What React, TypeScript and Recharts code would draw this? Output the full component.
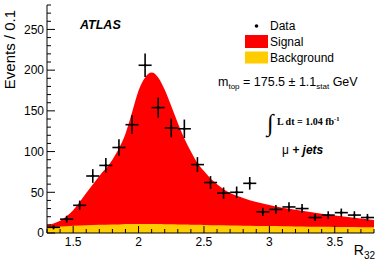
import { ComposedChart, Area, Scatter, ErrorBar, XAxis, YAxis } from "recharts";

// measured data: events per 0.1 bin of R32
const binCenters = [1.35, 1.45, 1.55, 1.65, 1.75, 1.85, 1.95, 2.05, 2.15, 2.25, 2.35, 2.45, 2.55, 2.65, 2.75, 2.85, 2.95, 3.05, 3.15, 3.25, 3.35, 3.45, 3.55, 3.65, 3.75];
const counts = [7, 17, 34, 70, 83, 105, 133, 206, 154, 129, 128, 84, 62, 49, 50, 61, 26, 29, 32, 30, 19, 22, 25, 22, 19];
const countErrors = [2.6, 4.2, 5.8, 8.4, 9.1, 10.2, 11.5, 14.4, 12.4, 11.4, 11.3, 9.2, 7.9, 7.0, 7.1, 7.8, 5.1, 5.4, 5.7, 5.5, 4.4, 4.7, 5.0, 4.7, 4.4];
const binHalfWidth = 0.05;

// fitted template (signal + background) and background alone
const curveX = [1.3, 1.4, 1.5, 1.6, 1.7, 1.8, 1.85, 1.9, 1.95, 2.0, 2.05, 2.1, 2.15, 2.2, 2.25, 2.3, 2.35, 2.4, 2.45, 2.5, 2.55, 2.6, 2.7, 2.8, 2.9, 3.0, 3.1, 3.2, 3.3, 3.4, 3.5, 3.6, 3.7, 3.8];
const signalTotal = [9.5, 15, 28, 49, 70, 90, 104, 122, 148, 175, 191, 197, 191, 176, 156, 135, 116, 100, 86, 76, 67, 60, 49, 43, 38, 34.5, 31, 28.5, 26, 23.5, 21.5, 19.5, 17.8, 16];
const background = [7.5, 8, 9, 9.5, 10, 10.5, 10.5, 11, 11, 11, 11, 11, 11, 10.8, 10.7, 10.5, 10.3, 10.1, 10, 9.8, 9.6, 9.5, 9.2, 9, 8.7, 8.5, 8.2, 8, 7.8, 7.6, 7.4, 7.3, 7.1, 7];

const xMajorTicks = [1.5, 2, 2.5, 3, 3.5];
const yMajorTicks = [0, 50, 100, 150, 200, 250];
const xTicks = Array.from({ length: 26 }, (_, i) => Math.round((1.3 + i * 0.1) * 10) / 10);
const yTicks = Array.from({ length: 29 }, (_, i) => i * 10);

const curveData = curveX.map((x, i) => ({ x, total: signalTotal[i], bg: background[i] }));
const points = binCenters.map((x, i) => ({ x, y: counts[i], ey: countErrors[i], ex: binHalfWidth }));

const FONT = "'Liberation Sans', Arial, Helvetica, sans-serif";
const SERIF = "'Liberation Serif', 'Times New Roman', serif";
const RED = "#ff0000";
const YELLOW = "#ffcc00";

const BottomTick = ({ x, y, payload }: any) => {
  const major = xMajorTicks.includes(payload.value);
  return (
    <g>
      <line x1={x} x2={x} y1={y} y2={y - (major ? 7 : 4)} stroke="#000" />
      {major && (
        <text x={x} y={y + 13} textAnchor="middle" fontSize={12} fontFamily={FONT} fill="#000">
          {payload.value}
        </text>
      )}
    </g>
  );
};

const TopTick = ({ x, y, payload }: any) => {
  const major = xMajorTicks.includes(payload.value);
  return <line x1={x} x2={x} y1={y} y2={y + (major ? 7 : 4)} stroke="#000" />;
};

const LeftTick = ({ x, y, payload }: any) => {
  const major = yMajorTicks.includes(payload.value);
  return (
    <g>
      <line x1={x} x2={x + (major ? 8 : 4)} y1={y} y2={y} stroke="#000" />
      {major && (
        <text x={x - 3} y={y + 4.3} textAnchor="end" fontSize={12} fontFamily={FONT} fill="#000">
          {payload.value}
        </text>
      )}
    </g>
  );
};

const RightTick = ({ x, y, payload }: any) => {
  const major = yMajorTicks.includes(payload.value);
  return <line x1={x} x2={x - (major ? 8 : 4)} y1={y} y2={y} stroke="#000" />;
};

const DataDot = ({ cx, cy }: any) => <circle cx={cx} cy={cy} r={1.3} fill="#000" />;

export default function App() {
  return (
    <div style={{ position: "absolute", left: 0, top: 0, background: "#fff" }}>
      <ComposedChart width={390} height={265} data={curveData} margin={{ top: 5, right: 16, bottom: 0, left: 0 }}>
        <Area type="monotone" dataKey="total" stroke="none" fill={RED} fillOpacity={1} baseValue={0} isAnimationActive={false} />
        <Area type="monotone" dataKey="bg" stroke="none" fill={YELLOW} fillOpacity={1} baseValue={0} isAnimationActive={false} />
        <Scatter data={points} dataKey="y" shape={<DataDot />} isAnimationActive={false}>
          <ErrorBar dataKey="ey" direction="y" width={0} stroke="#000" strokeWidth={1.6} isAnimationActive={false} />
          <ErrorBar dataKey="ex" direction="x" width={0} stroke="#000" strokeWidth={1.6} isAnimationActive={false} />
        </Scatter>

        <XAxis
          type="number"
          dataKey="x"
          domain={[1.3, 3.8]}
          allowDataOverflow
          ticks={xTicks}
          interval={0}
          tickSize={0}
          tickMargin={0}
          tickLine={false}
          tick={<BottomTick />}
          axisLine={{ stroke: "#000" }}
          height={32}
        />
        <XAxis
          xAxisId="top"
          orientation="top"
          type="number"
          dataKey="x"
          domain={[1.3, 3.8]}
          allowDataOverflow
          ticks={xTicks}
          interval={0}
          tickSize={0}
          tickMargin={0}
          tickLine={false}
          tick={<TopTick />}
          axisLine={{ stroke: "#000" }}
          height={0}
        />
        <YAxis
          type="number"
          domain={[0, 280]}
          allowDataOverflow
          ticks={yTicks}
          interval={0}
          tickSize={0}
          tickMargin={0}
          tickLine={false}
          tick={<LeftTick />}
          axisLine={{ stroke: "#000" }}
          width={47}
        />
        <YAxis
          yAxisId="right"
          orientation="right"
          type="number"
          domain={[0, 280]}
          allowDataOverflow
          ticks={yTicks}
          interval={0}
          tickSize={0}
          tickMargin={0}
          tickLine={false}
          tick={<RightTick />}
          axisLine={{ stroke: "#000" }}
          width={0}
        />

        <text x={15} y={10} transform="rotate(-90 15 10)" textAnchor="end" fontSize={15} fontFamily={FONT} fill="#000">
          Events / 0.1
        </text>
        <text x={375} y={255} textAnchor="end" fontSize={14} fontFamily={FONT} fill="#000">
          R<tspan fontSize={10} dy={4}>32</tspan>
        </text>

        <text x={80} y={28.5} fontSize={12.5} fontWeight="bold" fontStyle="italic" fontFamily={FONT} fill="#000">
          ATLAS
        </text>

        <circle cx={256.5} cy={26} r={1.8} fill="#000" />
        <text x={270} y={30.3} fontSize={12} fontFamily={FONT} fill="#000">Data</text>
        <rect x={245} y={35} width={23} height={13} fill={RED} />
        <text x={270} y={46.3} fontSize={12} fontFamily={FONT} fill="#000">Signal</text>
        <rect x={245} y={51.5} width={23} height={12} fill={YELLOW} />
        <text x={270} y={61.5} fontSize={12} fontFamily={FONT} fill="#000">Background</text>

        <text x={218} y={86} fontSize={12.5} fontFamily={FONT} fill="#000">
          m<tspan fontSize={8} dy={3}>top</tspan>
          <tspan dy={-3}> = 175.5 ± 1.1</tspan>
          <tspan fontSize={8} dy={3}>stat</tspan>
          <tspan dy={-3}> GeV</tspan>
        </text>

        <text x={267} y={131} fontSize={24} fontFamily={SERIF} fill="#000">
          ∫
        </text>
        <text x={277} y={125} fontSize={10} fontWeight="bold" fontFamily={SERIF} fill="#000">
          L dt = 1.04 fb<tspan fontSize={6.5} dy={-4}>-1</tspan>
        </text>

        <text x={282} y={153.5} fontSize={12} fontFamily={FONT} fill="#000">
          μ <tspan fontWeight="bold" fontStyle="italic">+ jets</tspan>
        </text>
      </ComposedChart>
    </div>
  );
}
